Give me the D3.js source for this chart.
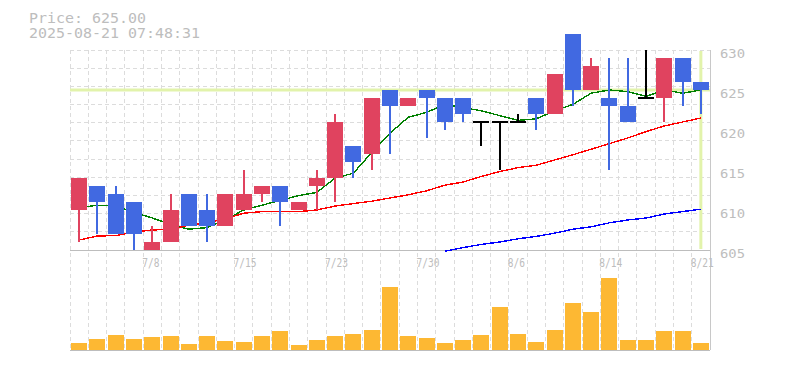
<!DOCTYPE html>
<html><head><meta charset="utf-8">
<script src="https://cdn.jsdelivr.net/npm/d3@7"></script>
<style>body{margin:0;background:#fff}svg{display:block}</style>
</head><body><svg id="c" width="785" height="370"></svg>
<script>
const dates = ["7/2","7/3","7/4","7/7","7/8","7/9","7/10","7/11","7/14","7/15","7/16","7/17","7/18","7/22","7/23","7/24","7/25","7/28","7/29","7/30","7/31","8/1","8/4","8/5","8/6","8/7","8/8","8/12","8/13","8/14","8/15","8/18","8/19","8/20","8/21"];
const open  = [610,613,612,611,605,606,612,610,608,610,612,613,610,613,614,618,617,625,623,625,624,624,621,621,621,624,622,632,625,624,623,624,624,629,626];
const high  = [614,613,613,611,608,612,612,612,612,615,613,613,611,615,622,618,624,625,624,625,624,624,621,621,622,624,627,632,629,629,629,630,629,629,626];
const low   = [606,607,607,605,605,606,608,606,608,610,611,608,610,610,611,614,615,617,623,619,620,621,618,615,621,620,622,623,625,615,621,624,621,623,622];
const close = [614,611,607,607,606,610,608,608,612,612,613,611,611,614,621,616,624,623,624,624,621,622,621,621,621,622,627,625,628,623,621,624,629,626,625];
const volume = [700,1100,1500,1100,1300,1400,600,1400,900,800,1400,1900,500,1000,1400,1600,2000,6300,1400,1200,700,1000,1500,4300,1600,800,2000,4700,3800,7200,1000,1000,1900,1900,700];
const ma5  = [610.3,610.6,610.5,609.7,609.0,608.2,607.6,607.8,608.8,610.0,610.6,611.2,611.8,612.2,614.0,614.6,617.2,619.6,621.6,622.2,623.2,622.8,622.4,621.8,621.2,621.4,622.4,623.2,624.6,625.0,624.8,624.2,625.0,624.6,625.0];
const ma25 = [606.25,606.75,606.8,607.25,607.5,607.6,608.1,608.4,608.9,609.6,609.8,609.8,609.8,610.0,610.5,610.8,611.1,611.5,611.9,612.4,613.1,613.5,614.2,614.8,615.3,615.6,616.25,616.9,617.6,618.3,619.0,619.8,620.5,621.0,621.5];
const ma75 = [null,null,null,null,null,null,null,null,null,null,null,null,null,null,null,null,null,null,null,null,604.85,605.3,605.7,606.0,606.4,606.7,607.1,607.6,607.9,608.4,608.75,609.0,609.5,609.8,610.1];
const priceTicks = [605,610,615,620,625,630];
const dateTicks = ["7/8","7/15","7/23","7/30","8/6","8/14","8/21"];
const lastPrice = 625.00;
const header = ["Price: 625.00","2025-08-21 07:48:31"];

const svg = d3.select("#c");
const L=70, R=710, PT=50, PB=250, VT=250, VB=349.5;
const x = d3.scaleBand().domain(dates).range([L,R]).padding(0);
const bw = x.bandwidth();
const cx = d => x(d)+bw/2;
const y = d3.scaleLinear().domain([605,630]).range([PB,PT]);
const yv = d3.scaleLinear().domain([0,10000]).range([VB,VB-100]);
const grey="#bdbdbd", grid="#dcdcdc";
const mono="'DejaVu Sans Mono', monospace";

// grid
const g = svg.append("g").attr("shape-rendering","crispEdges");
const vlines = dates.map(d=>x(d));
g.selectAll(".vg").data(vlines).join("line")
  .attr("x1",d=>d).attr("x2",d=>d).attr("y1",PT).attr("y2",VB)
  .attr("stroke",grid).attr("stroke-dasharray","4,3");
const nH = 11;
g.selectAll(".hg").data(d3.range(nH)).join("line")
  .attr("x1",L).attr("x2",R).attr("y1",i=>PT+(PB-PT)*i/nH).attr("y2",i=>PT+(PB-PT)*i/nH)
  .attr("stroke",grid).attr("stroke-dasharray","4,3");
g.append("line").attr("x1",R).attr("x2",R).attr("y1",PT).attr("y2",VB).attr("stroke","#c8c8c8");
g.append("line").attr("x1",L).attr("x2",R).attr("y1",PB).attr("y2",PB).attr("stroke",grey);
g.append("line").attr("x1",L).attr("x2",R).attr("y1",VB+0.5).attr("y2",VB+0.5).attr("stroke",grey);

// last price markers
svg.append("line").attr("x1",L).attr("x2",R).attr("y1",y(lastPrice)).attr("y2",y(lastPrice))
  .attr("stroke","#e2f3ab").attr("stroke-width",3);
svg.append("line").attr("x1",cx(dates[dates.length-1])).attr("x2",cx(dates[dates.length-1]))
  .attr("y1",PT+1).attr("y2",PB-1).attr("stroke","#e2f3ab").attr("stroke-width",3);

// MA lines
const line = d3.line().defined(d=>d[1]!=null).x(d=>cx(d[0])).y(d=>y(d[1]));
[[ma5,"#008000"],[ma25,"#ff0000"],[ma75,"#0000ff"]].forEach(([arr,col])=>{
  svg.append("path").datum(dates.map((d,i)=>[d,arr[i]])).attr("d",line)
    .attr("fill","none").attr("stroke",col).attr("stroke-width",1.4)
    .attr("shape-rendering","crispEdges");
});

// candles
const up="#e0435f", dn="#4169e1";
const cg = svg.append("g").attr("shape-rendering","crispEdges");
dates.forEach((d,i)=>{
  const o=open[i], c=close[i], h=high[i], l=low[i];
  const col = c>o?up:(c<o?dn:"#000");
  const xc = Math.round(cx(d));
  cg.append("line").attr("x1",xc).attr("x2",xc).attr("y1",y(h)).attr("y2",y(l)).attr("stroke",col).attr("stroke-width",1.2);
  if(c!==o){
    cg.append("rect").attr("x",cx(d)-8).attr("width",16)
      .attr("y",y(Math.max(o,c))).attr("height",Math.abs(y(o)-y(c))).attr("fill",col);
  } else {
    cg.append("line").attr("x1",cx(d)-8).attr("x2",cx(d)+8).attr("y1",y(c)).attr("y2",y(c)).attr("stroke","#000").attr("stroke-width",1.5);
  }
});

// volume
svg.append("g").attr("shape-rendering","crispEdges").selectAll("rect").data(dates).join("rect")
  .attr("x",d=>cx(d)-8).attr("width",16)
  .attr("y",(d,i)=>yv(volume[i])).attr("height",(d,i)=>yv(0)-yv(volume[i]))
  .attr("fill","#fdb833");

// axis labels
svg.append("g").selectAll("text").data(priceTicks).join("text")
  .attr("x",720).attr("y",d=>y(d)+7.5).text(d=>d)
  .attr("font-family",mono).attr("font-size",12).attr("fill",grey)
  .attr("textLength",25).attr("lengthAdjust","spacingAndGlyphs");
svg.append("g").selectAll("text").data(dateTicks).join("text")
  .attr("x",d=>x(d)-1).attr("y",266.5).text(d=>d)
  .attr("font-family",mono).attr("font-size",11.5).attr("fill",grey)
  .attr("textLength",d=>d.length*5.75).attr("lengthAdjust","spacingAndGlyphs");

// header
svg.append("g").selectAll("text").data(header).join("text")
  .attr("x",29).attr("y",(d,i)=>23.3+i*14.5).text(d=>d)
  .attr("font-family",mono).attr("font-size",14).attr("fill",grey)
  .attr("textLength",d=>d.length*9).attr("lengthAdjust","spacingAndGlyphs");
</script></body></html>
